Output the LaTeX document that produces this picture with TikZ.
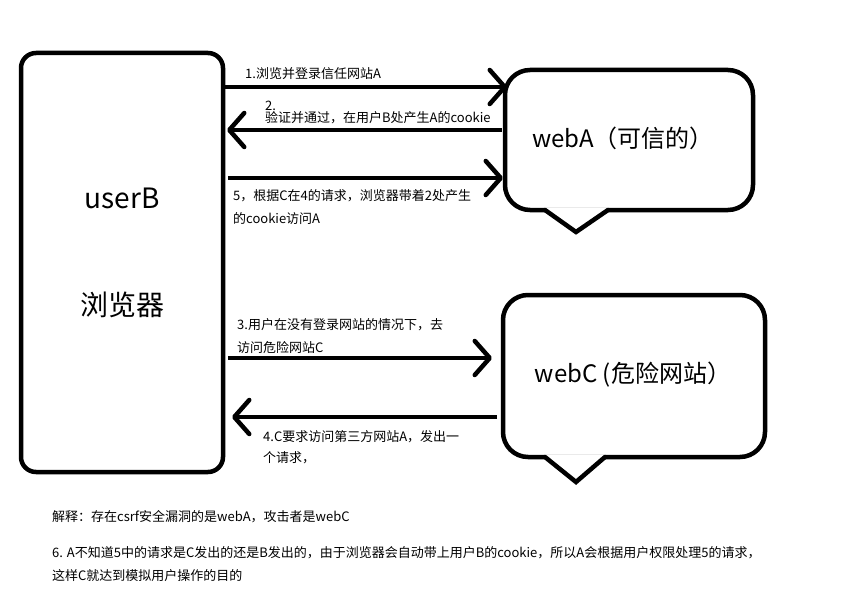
\documentclass[tikz,border=0pt]{standalone}
\usepackage{fontspec}
\setmainfont{Noto Sans CJK SC}
\usetikzlibrary{positioning,arrows.meta}

\begin{document}
\begin{tikzpicture}[x=1pt, y=-1pt,
    box/.style={draw, line width=4.5pt, rounded corners=15pt, outer sep=0pt},
    bubble/.style={draw, line width=4.5pt, rounded corners=25pt, outer sep=0pt, fill=white},
    pointer/.style={line width=4.5pt, line join=miter, line cap=round},
    flow/.style={line width=4.5pt, -{Straight Barb[length=15pt, width=34pt, round]}},
    lbl/.style={anchor=base west, align=left, inner sep=0pt, font=\fontsize{13}{23}\selectfont},
    big/.style={font=\fontsize{28}{32}\selectfont},
    mid/.style={font=\fontsize{24}{28}\selectfont}]
    \useasboundingbox (0,0) rectangle (843,615);

    % Browser
    \node[box, minimum width=202pt, minimum height=419pt] (userB) at (122,262.5) {};
    \node[big] (userBname) at (122,198) {userB};
    \node[big] (browser) at (122,305) {浏览器};

    % Trusted site
    \node[bubble, minimum width=248pt, minimum height=140pt] (webA) at (629,140) {};
    \fill[white] ([xshift=-84pt, yshift=2.3pt]webA.south) -- ([xshift=-53pt, yshift=-22pt]webA.south) -- ([xshift=-21pt, yshift=2.3pt]webA.south) -- cycle;
    \draw[pointer] ([xshift=-84pt]webA.south) -- ([xshift=-53pt, yshift=-22pt]webA.south) -- ([xshift=-21pt]webA.south);
    \node[mid] (webAname) at (623,138) {webA（可信的）};

    % Dangerous site
    \node[bubble, minimum width=262pt, minimum height=162pt] (webC) at (634,376) {};
    \fill[white] ([xshift=-89pt, yshift=2.3pt]webC.south) -- ([xshift=-58pt, yshift=-25pt]webC.south) -- ([xshift=-29pt, yshift=2.3pt]webC.south) -- cycle;
    \draw[pointer] ([xshift=-89pt]webC.south) -- ([xshift=-58pt, yshift=-25pt]webC.south) -- ([xshift=-29pt]webC.south);
    \node[mid] (webCname) at (633,375) {webC (危险网站）};

    % Requests between browser and sites
    \draw[flow] ([yshift=-34pt]userB.north east) -- ([xshift=2pt, yshift=-17pt]webA.north west);
    \draw[flow] ([xshift=-3pt, yshift=-60pt]webA.north west) -- ([xshift=4pt, yshift=-77pt]userB.north east);
    \draw[flow] ([xshift=5pt, yshift=-125pt]userB.north east) -- ([xshift=-2pt, yshift=-108pt]webA.north west);
    \draw[flow] ([xshift=5pt, yshift=-305pt]userB.north east) -- ([xshift=-11pt, yshift=-63pt]webC.north west);
    \draw[flow] ([xshift=-6pt, yshift=-122pt]webC.north west) -- ([xshift=9pt, yshift=-364pt]userB.north east);

    % Step labels
    \node[lbl] (step1) at (245,79) {1.浏览并登录信任网站A};
    \node[lbl] (step2) at (265,123) {2.\\[-11pt]验证并通过，在用户B处产生A的cookie};
    \node[lbl] (step5) at (233,223) {5，根据C在4的请求，浏览器带着2处产生\\的cookie访问A};
    \node[lbl] (step3) at (237,352) {3.用户在没有登录网站的情况下，去\\访问危险网站C};
    \node[lbl] (step4) at (263,462) {4.C要求访问第三方网站A，发出一\\[-2pt]个请求，};

    % Notes
    \node[lbl] (note) at (52,521) {解释：存在csrf安全漏洞的是webA，攻击者是webC};
    \node[lbl] (step6) at (52,580) {6. A不知道5中的请求是C发出的还是B发出的，由于浏览器会自动带上用户B的cookie，所以A会根据用户权限处理5的请求，\\这样C就达到模拟用户操作的目的};
\end{tikzpicture}
\end{document}
